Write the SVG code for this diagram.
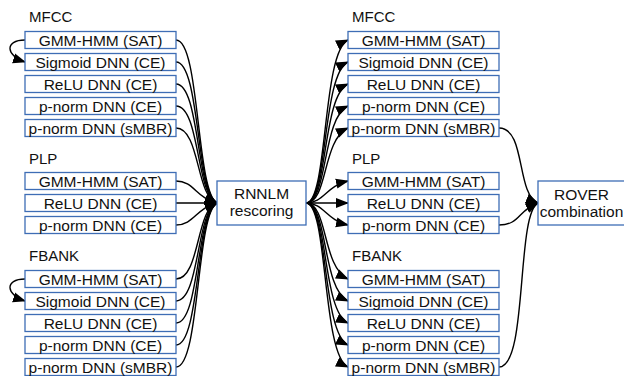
<svg xmlns="http://www.w3.org/2000/svg" width="624" height="376" viewBox="0 0 624 376">
<style>
.box{fill:#fff;stroke:#3e6db5;stroke-width:1.3}
.t{font-family:"Liberation Sans",Arial,sans-serif;font-size:15.5px;fill:#111;text-anchor:middle}
.lbl{font-family:"Liberation Sans",Arial,sans-serif;font-size:15px;fill:#111}
.c{fill:none;stroke:#000;stroke-width:1.4}
</style>
<defs>
<marker id="ah" markerUnits="userSpaceOnUse" markerWidth="14" markerHeight="12" refX="12" refY="5" orient="auto" viewBox="0 0 14 10">
<path d="M0,0 L13,5 L0,10 Z" fill="#000"/>
</marker>
</defs>
<rect width="624" height="376" fill="#fff"/>

<g id="labels">
<text class="lbl" x="29" y="22">MFCC</text>
<text class="lbl" x="29" y="164">PLP</text>
<text class="lbl" x="29" y="261">FBANK</text>
<text class="lbl" x="352" y="22">MFCC</text>
<text class="lbl" x="352" y="164">PLP</text>
<text class="lbl" x="352" y="261">FBANK</text>
</g>

<g id="connectors">
<!-- self loops -->
<path class="c" d="M25,40 C4,40 6,56 25,62" marker-end="url(#ah)"/>
<path class="c" d="M25,279 C4,279 6,295 25,301" marker-end="url(#ah)"/>
<!-- left to RNNLM -->
<path class="c" d="M176,40 C200,40 196,191.6 217,203" marker-end="url(#ah)"/>
<path class="c" d="M176,62 C200,62 196,193 217,203" marker-end="url(#ah)"/>
<path class="c" d="M176,84 C200,84 196,194.5 217,203" marker-end="url(#ah)"/>
<path class="c" d="M176,106 C200,106 196,196 217,203" marker-end="url(#ah)"/>
<path class="c" d="M176,128 C200,128 196,197.5 217,203" marker-end="url(#ah)"/>
<path class="c" d="M176,181 C194,181 196,198 217,203" marker-end="url(#ah)"/>
<path class="c" d="M176,203 L217,203" marker-end="url(#ah)"/>
<path class="c" d="M176,225 C194,225 196,208 217,203" marker-end="url(#ah)"/>
<path class="c" d="M176,279 C200,279 196,208.5 217,203" marker-end="url(#ah)"/>
<path class="c" d="M176,301 C200,301 196,210 217,203" marker-end="url(#ah)"/>
<path class="c" d="M176,323 C200,323 196,211.5 217,203" marker-end="url(#ah)"/>
<path class="c" d="M176,345 C200,345 196,213 217,203" marker-end="url(#ah)"/>
<path class="c" d="M176,367 C200,367 196,214.5 217,203" marker-end="url(#ah)"/>
<!-- RNNLM to right -->
<path class="c" d="M306,203 C328,203 322,52 348,40" marker-end="url(#ah)"/>
<path class="c" d="M306,203 C328,203 322,74 348,62" marker-end="url(#ah)"/>
<path class="c" d="M306,203 C328,203 322,96 348,84" marker-end="url(#ah)"/>
<path class="c" d="M306,203 C328,203 322,118 348,106" marker-end="url(#ah)"/>
<path class="c" d="M306,203 C328,203 322,140 348,128" marker-end="url(#ah)"/>
<path class="c" d="M306,203 C324,203 326,186 348,181" marker-end="url(#ah)"/>
<path class="c" d="M306,203 L348,203" marker-end="url(#ah)"/>
<path class="c" d="M306,203 C324,203 326,220 348,225" marker-end="url(#ah)"/>
<path class="c" d="M306,203 C328,203 322,267 348,279" marker-end="url(#ah)"/>
<path class="c" d="M306,203 C328,203 322,289 348,301" marker-end="url(#ah)"/>
<path class="c" d="M306,203 C328,203 322,311 348,323" marker-end="url(#ah)"/>
<path class="c" d="M306,203 C328,203 322,333 348,345" marker-end="url(#ah)"/>
<path class="c" d="M306,203 C328,203 322,355 348,367" marker-end="url(#ah)"/>
<!-- right to ROVER -->
<path class="c" d="M499,128 C526,128 516,194 538,203" marker-end="url(#ah)"/>
<path class="c" d="M499,225 C520,225 518,210 538,203" marker-end="url(#ah)"/>
<path class="c" d="M499,367 C528,367 516,214 538,203" marker-end="url(#ah)"/>
</g>

<g id="n-l-mfcc-gmm"><rect class="box" x="25" y="31.5" width="151" height="17"/><text class="t" x="100.5" y="46">GMM-HMM (SAT)</text></g>
<g id="n-l-mfcc-sig"><rect class="box" x="25" y="53.5" width="151" height="17"/><text class="t" x="100.5" y="68">Sigmoid DNN (CE)</text></g>
<g id="n-l-mfcc-relu"><rect class="box" x="25" y="75.5" width="151" height="17"/><text class="t" x="100.5" y="90">ReLU DNN (CE)</text></g>
<g id="n-l-mfcc-pce"><rect class="box" x="25" y="97.5" width="151" height="17"/><text class="t" x="100.5" y="112">p-norm DNN (CE)</text></g>
<g id="n-l-mfcc-psmbr"><rect class="box" x="25" y="119.5" width="151" height="17"/><text class="t" x="100.5" y="134">p-norm DNN (sMBR)</text></g>
<g id="n-l-plp-gmm"><rect class="box" x="25" y="172.5" width="151" height="17"/><text class="t" x="100.5" y="187">GMM-HMM (SAT)</text></g>
<g id="n-l-plp-relu"><rect class="box" x="25" y="194.5" width="151" height="17"/><text class="t" x="100.5" y="209">ReLU DNN (CE)</text></g>
<g id="n-l-plp-pce"><rect class="box" x="25" y="216.5" width="151" height="17"/><text class="t" x="100.5" y="231">p-norm DNN (CE)</text></g>
<g id="n-l-fb-gmm"><rect class="box" x="25" y="270.5" width="151" height="17"/><text class="t" x="100.5" y="285">GMM-HMM (SAT)</text></g>
<g id="n-l-fb-sig"><rect class="box" x="25" y="292.5" width="151" height="17"/><text class="t" x="100.5" y="307">Sigmoid DNN (CE)</text></g>
<g id="n-l-fb-relu"><rect class="box" x="25" y="314.5" width="151" height="17"/><text class="t" x="100.5" y="329">ReLU DNN (CE)</text></g>
<g id="n-l-fb-pce"><rect class="box" x="25" y="336.5" width="151" height="17"/><text class="t" x="100.5" y="351">p-norm DNN (CE)</text></g>
<g id="n-l-fb-psmbr"><rect class="box" x="25" y="358.5" width="151" height="17"/><text class="t" x="100.5" y="373">p-norm DNN (sMBR)</text></g>

<g id="n-rnnlm"><rect class="box" x="217" y="181" width="89" height="44"/><text class="t" x="261.5" y="199">RNNLM</text><text class="t" x="261.5" y="216">rescoring</text></g>

<g id="n-r-mfcc-gmm"><rect class="box" x="348" y="31.5" width="151" height="17"/><text class="t" x="423.5" y="46">GMM-HMM (SAT)</text></g>
<g id="n-r-mfcc-sig"><rect class="box" x="348" y="53.5" width="151" height="17"/><text class="t" x="423.5" y="68">Sigmoid DNN (CE)</text></g>
<g id="n-r-mfcc-relu"><rect class="box" x="348" y="75.5" width="151" height="17"/><text class="t" x="423.5" y="90">ReLU DNN (CE)</text></g>
<g id="n-r-mfcc-pce"><rect class="box" x="348" y="97.5" width="151" height="17"/><text class="t" x="423.5" y="112">p-norm DNN (CE)</text></g>
<g id="n-r-mfcc-psmbr"><rect class="box" x="348" y="119.5" width="151" height="17"/><text class="t" x="423.5" y="134">p-norm DNN (sMBR)</text></g>
<g id="n-r-plp-gmm"><rect class="box" x="348" y="172.5" width="151" height="17"/><text class="t" x="423.5" y="187">GMM-HMM (SAT)</text></g>
<g id="n-r-plp-relu"><rect class="box" x="348" y="194.5" width="151" height="17"/><text class="t" x="423.5" y="209">ReLU DNN (CE)</text></g>
<g id="n-r-plp-pce"><rect class="box" x="348" y="216.5" width="151" height="17"/><text class="t" x="423.5" y="231">p-norm DNN (CE)</text></g>
<g id="n-r-fb-gmm"><rect class="box" x="348" y="270.5" width="151" height="17"/><text class="t" x="423.5" y="285">GMM-HMM (SAT)</text></g>
<g id="n-r-fb-sig"><rect class="box" x="348" y="292.5" width="151" height="17"/><text class="t" x="423.5" y="307">Sigmoid DNN (CE)</text></g>
<g id="n-r-fb-relu"><rect class="box" x="348" y="314.5" width="151" height="17"/><text class="t" x="423.5" y="329">ReLU DNN (CE)</text></g>
<g id="n-r-fb-pce"><rect class="box" x="348" y="336.5" width="151" height="17"/><text class="t" x="423.5" y="351">p-norm DNN (CE)</text></g>
<g id="n-r-fb-psmbr"><rect class="box" x="348" y="358.5" width="151" height="17"/><text class="t" x="423.5" y="373">p-norm DNN (sMBR)</text></g>

<g id="n-rover"><rect class="box" x="538" y="181" width="89" height="44"/><text class="t" x="581.5" y="200">ROVER</text><text class="t" x="581.5" y="217">combination</text></g>
</svg>
